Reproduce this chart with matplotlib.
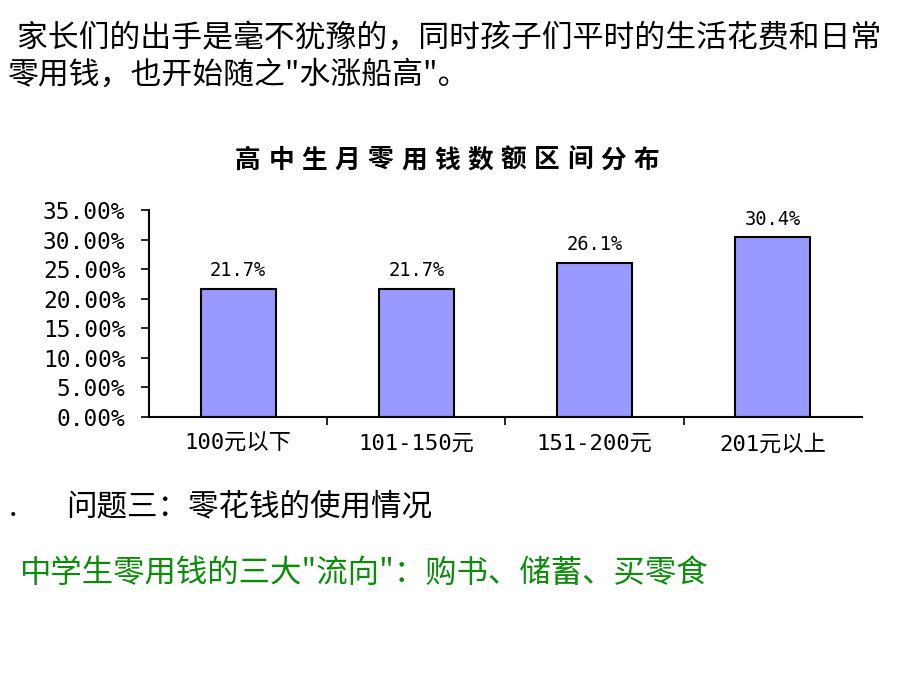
import matplotlib

matplotlib.use("Agg")
import matplotlib.pyplot as plt

plt.rcParams["font.family"] = ["Noto Sans CJK SC", "DejaVu Sans"]

HEADER = [" 家长们的出手是毫不犹豫的，同时孩子们平时的生活花费和日常",
          "零用钱，也开始随之\"水涨船高\"。"]
TITLE = "高中生月零用钱数额区间分布"
CATEGORIES = ["100元以下", "101-150元", "151-200元", "201元以上"]
SHARES = [0.217, 0.217, 0.261, 0.304]
LABELS = ["21.7%", "21.7%", "26.1%", "30.4%"]
YTICKS = [0.0, 0.05, 0.10, 0.15, 0.20, 0.25, 0.30, 0.35]
QUESTION = "问题三：零花钱的使用情况"
ANSWER = "中学生零用钱的三大\"流向\"：购书、储蓄、买零食"

MONO = ["DejaVu Sans Mono", "Noto Sans CJK SC"]

fig = plt.figure(figsize=(9.2, 6.9), dpi=100)
W, H = 920, 690

# slide text
fig.text(10 / W, 1 - 38 / H, HEADER[0], fontsize=22.2, va="center", ha="left")
fig.text(8 / W, 1 - 75 / H, HEADER[1], fontsize=22.2, va="center", ha="left")

# chart title, letter-spaced like the original
x0, x1 = 248 / W, 646 / W
for i, ch in enumerate(TITLE):
    fig.text(x0 + (x1 - x0) * i / (len(TITLE) - 1), 1 - 160 / H, ch,
             fontsize=18.5, fontweight="bold", ha="center", va="center")

ax = fig.add_axes([149 / W, 1 - 417 / H, (862 - 149) / W, (417 - 210) / H])
x = list(range(len(CATEGORIES)))
ax.bar(x, SHARES, width=0.42, color="#9999ff", edgecolor="black", linewidth=1.5)
for xi, v, lab in zip(x, SHARES, LABELS):
    ax.annotate(lab, (xi, v), xytext=(0, 6), textcoords="offset points",
                ha="center", va="bottom", fontsize=13.5, family=MONO)

ax.set_xlim(-0.5, len(CATEGORIES) - 0.5)
ax.set_ylim(0, 0.35)
ax.set_yticks(YTICKS)
ax.set_yticklabels([f"{t * 100:.2f}%" for t in YTICKS], family=MONO, fontsize=16.5)
ax.set_xticks(x)
ax.set_xticklabels(CATEGORIES, family=MONO, fontsize=16)
ax.set_xticks([i + 0.5 for i in x[:-1]], minor=True)
ax.tick_params(axis="x", which="major", length=0, pad=12)
ax.tick_params(axis="x", which="minor", length=6, width=1.2, direction="out")
ax.tick_params(axis="y", length=6, width=1.2, direction="out", pad=11)
for side in ("top", "right"):
    ax.spines[side].set_visible(False)
for side in ("left", "bottom"):
    ax.spines[side].set_linewidth(1.5)

fig.text(13 / W, 1 - 508 / H, ".", fontsize=22, ha="center", va="center")
fig.text(66 / W, 1 - 507 / H, QUESTION, fontsize=22, ha="left", va="center")
fig.text(20 / W, 1 - 573 / H, ANSWER, fontsize=22.6, ha="left", va="center",
         color="#0b8c0b")

fig.savefig("out.png", dpi=100)
